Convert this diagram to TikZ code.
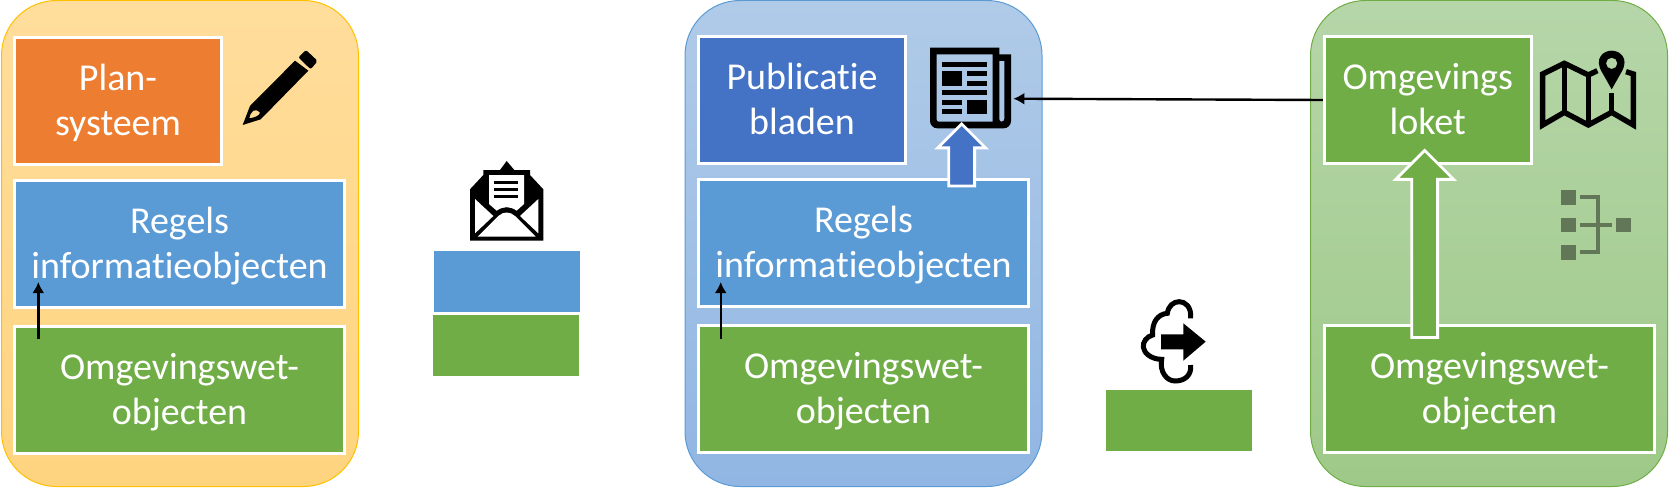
\documentclass[tikz,border=0pt]{standalone}
\usepackage{fontspec}
\setmainfont{Carlito}[Ligatures=NoCommon]
\usetikzlibrary{arrows.meta,shapes.arrows}
\definecolor{oranje}{HTML}{ED7D31}
\definecolor{blauw}{HTML}{5B9BD5}
\definecolor{donkerblauw}{HTML}{4472C4}
\definecolor{groen}{HTML}{70AD47}
\definecolor{grijsgroen}{HTML}{617758}
\begin{document}
\begin{tikzpicture}[x=1pt,y=-1pt,>={Latex[length=11pt,width=12pt]},
	paneel/.style={draw,line width=1pt,rounded corners=55pt,minimum width=357pt,minimum height=486pt},
	vak/.style={draw=white,line width=2.8pt,text=white,align=center,inner sep=0pt,text depth=3pt,minimum height=127pt,minimum width=330pt,font=\fontsize{38}{45}\selectfont},
	smal/.style={vak,minimum width=207pt},
	blok/.style={minimum width=146pt,minimum height=61pt,inner sep=0pt},
	pijl/.style={single arrow,single arrow tip angle=90,shape border rotate=90,anchor=tip,draw=white,line width=2.8pt,inner sep=11.5pt},
	lijn/.style={->,line width=2.4pt}]
	\useasboundingbox (0,0) rectangle (1669,487);
	\node[paneel,draw={rgb,255:red,255;green,192;blue,0},top color={rgb,255:red,255;green,221;blue,156},bottom color={rgb,255:red,255;green,212;blue,127}] (plan) at (180,243.5) {};
	\node[paneel,draw=blauw,top color={rgb,255:red,176;green,203;blue,232},bottom color={rgb,255:red,145;green,182;blue,227}] (publicatie) at (863.5,243.5) {};
	\node[paneel,draw=groen,top color={rgb,255:red,182;green,214;blue,169},bottom color={rgb,255:red,158;green,201;blue,136}] (loket) at (1489,243.5) {};

	\node[smal,fill=oranje] (plansys) at (118,101) {Plan-\\systeem};
	\node[vak,fill=blauw] (regels1) at (179.5,244) {Regels\\informatieobjecten};
	\node[vak,fill=groen] (objecten1) at (179.5,390) {Omgevingswet-\\objecten};
	\node[smal,fill=donkerblauw] (bladen) at (802,100) {Publicatie\\bladen};
	\node[vak,fill=blauw] (regels2) at (863.5,243) {Regels\\informatieobjecten};
	\node[vak,fill=groen] (objecten2) at (863.5,389) {Omgevingswet-\\objecten};
	\node[smal,fill=groen] (omgevingsloket) at (1427.7,100) {Omgevings\\loket};
	\node[vak,fill=groen] (objecten3) at (1489.5,389) {Omgevingswet-\\objecten};

	\node[blok,fill=blauw] (bericht1) at (507,281.5) {};\node[blok,fill=groen] (bericht2) at (506,345) {};\node[blok,fill=groen] (download) at (1179,420.5) {};

	\begin{scope}[shift={(220,30)},scale=1/3]
		\fill[even odd rule] (68,285) -- (90,228) -- (225,92) -- (265,122) -- (122,268) -- cycle (88,265) .. controls (92,243) and (105,232) .. (120,248) .. controls (118,258) and (105,262) .. (88,265) -- cycle;
		\fill[rounded corners=2pt] (235,82) -- (258,60) -- (293,93) -- (272,118) -- cycle;
	\end{scope}
	\begin{scope}[shift={(455,150)},scale=1/3]
		\fill (45,118) -- (85,75) -- (85,60) -- (135,60) -- (155,33) -- (178,60) -- (225,60) -- (225,75) -- (265,118) -- (265,272) -- (45,272) -- cycle;
		\fill[white] (102,75) -- (207,75) -- (207,162) -- (185,182) .. controls (165,168) and (145,168) .. (125,182) -- (102,162) -- cycle;
		\fill[white] (60,147) -- (115,198) -- (60,250) -- cycle (250,147) -- (195,198) -- (250,250) -- cycle (68,260) -- (130,198) .. controls (145,184) and (165,184) .. (180,198) -- (242,260) -- cycle;
		\foreach \y in {98,119,140} {\draw[line width=3.3pt] (118,\y) -- (188,\y);}
	\end{scope}
	\begin{scope}[shift={(910,35)},scale=1/3]
		\fill[even odd rule] (60,38) -- (268,38) -- (268,58) -- (303,58) -- (303,258) arc (0:90:22) -- (82,280) arc (90:180:22) -- cycle (80,58) -- (248,58) -- (248,260) -- (86,260) arc (90:180:6) -- cycle (268,78) -- (283,78) -- (283,252) arc (0:90:8) arc (90:180:7) -- cycle;
		\foreach \a/\b/\c/\d in {95/80/232/95,95/108/157/152,171/108/232/124,171/137/232/152,95/165/232/180,95/195/157/209,95/223/157/238,171/195/232/238} {\fill (\a,\b) rectangle (\c,\d);}
	\end{scope}
	\begin{scope}[shift={(1520,50)},scale=1/3]
		\draw[line width=5.4pt,miter limit=10] (232,62) -- (205,75) -- (133,40) -- (68,72) -- (68,225) -- (133,187) -- (205,225) -- (275,187) -- (340,225) -- (340,72) -- (318,65);
		\draw[line width=5pt] (133,40) -- (133,187) (205,75) -- (205,225) (275,130) -- (275,187);
		\fill[even odd rule] (275,118) -- (245,65) .. controls (222,25) and (250,2) .. (275,2) .. controls (300,2) and (328,25) .. (305,65) -- cycle (275,40) circle (17);
	\end{scope}
	\begin{scope}[shift={(1520,50)},scale=1/3,grijsgroen]
		\foreach \a/\b in {123/420,123/503,123/585,289/503} {\fill (\a,\b) rectangle ++(44,44);}
		\draw[line width=4pt] (180,442) -- (234,442) -- (234,606) -- (180,606) (180,525) -- (276,525);
	\end{scope}
	\begin{scope}[shift={(1120,300)},scale=1/3]
		\draw[line width=5pt] (212,55) .. controls (215,20) and (195,5) .. (178,5) .. controls (160,5) and (145,18) .. (142,40) .. controls (115,42) and (95,65) .. (98,105) .. controls (80,110) and (68,125) .. (70,142) .. controls (72,160) and (95,178) .. (125,178) .. controls (118,215) and (140,243) .. (165,243) .. controls (195,243) and (215,225) .. (212,195);
		\fill (123,103) -- (190,103) -- (190,70) -- (257,125) -- (190,182) -- (190,148) -- (123,148) -- cycle;
	\end{scope}

	\node[pijl,fill=donkerblauw,minimum height=62pt,single arrow head extend=11pt] (opwaarts1) at (961.7,122) {};
	\node[pijl,fill=groen,minimum height=187pt,single arrow head extend=16pt] (opwaarts2) at (1424.7,148.5) {};

	\coordinate (start1) at (38.3,339);\coordinate (eind1) at (38.3,282);\draw[lijn] (start1) -- (eind1);
	\coordinate (start2) at (720.7,339);\coordinate (eind2) at (720.7,282);\draw[lijn] (start2) -- (eind2);
	\coordinate (krant) at (1013.3,98.7);\draw[lijn] (omgevingsloket.west) -- (krant);
\end{tikzpicture}
\end{document}
